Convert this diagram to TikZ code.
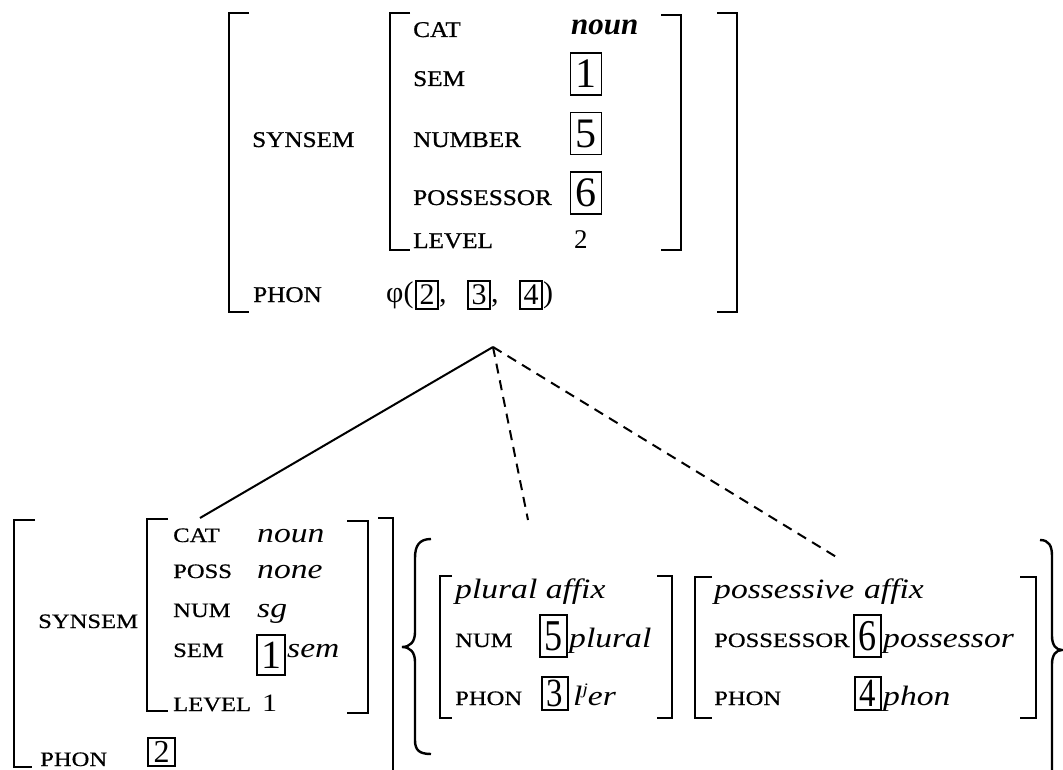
\documentclass[tikz,border=0pt]{standalone}
\usepackage{fontspec}
\setmainfont{Liberation Serif}
\newfontfamily\labfont[FakeStretch=1.12,FakeBold=0.8]{Liberation Serif}
\newfontfamily\blabfont[FakeStretch=1.2,FakeBold=0.6]{Liberation Serif}
\newfontfamily\bvalfont[FakeStretch=1.2]{Liberation Serif}
\newfontfamily\narrowdig[FakeStretch=0.82]{Liberation Serif}
\newcommand\fsz[1]{\fontsize{#1}{#1}\selectfont}
\begin{document}
\begin{tikzpicture}[x=1pt,y=-1pt,
  brk/.style={line width=2.8pt, line join=miter},
  brc/.style={line width=2.4pt},
  link/.style={line width=2pt},
  dlink/.style={line width=2pt, dash pattern=on 10pt off 7pt},
  lab/.style={anchor=base west, inner sep=0pt, font=\labfont\fsz{22.5}},
  tval/.style={anchor=base west, inner sep=0pt, font=\bfseries\itshape\fsz{31}},
  tnum/.style={anchor=base west, inner sep=0pt, font=\fsz{27}},
  pnum/.style={anchor=base west, inner sep=0pt, font=\fsz{30}},
  ttag/.style={draw, line width=1.6pt, inner sep=0pt, minimum width=31pt, minimum height=42pt, font=\fsz{42}},
  ptag/.style={draw, line width=1.5pt, inner sep=0pt, minimum width=22pt, minimum height=28pt, font=\fsz{30}},
  blab/.style={anchor=base west, inner sep=0pt, font=\blabfont\fsz{20.5}},
  bval/.style={anchor=base west, inner sep=0pt, font=\bvalfont\itshape\fsz{28}},
  bnum/.style={anchor=base west, inner sep=0pt, font=\bvalfont\fsz{25}},
  btag/.style={draw, line width=1.6pt, inner sep=0pt, minimum width=28pt, minimum height=40pt, font=\fsz{40}},
  ctag/.style={draw, line width=1.6pt, inner sep=0pt, minimum width=27pt, minimum height=42pt, font=\narrowdig\fsz{44}},
  dtag/.style={draw, line width=1.6pt, inner sep=0pt, minimum width=26pt, minimum height=33pt, font=\narrowdig\fsz{40}}]
\useasboundingbox (0,0) rectangle (1063,770);

% ---------- top structure ----------
\draw[brk] (249,13) -- (229,13) -- (229,312) -- (249,312);
\draw[brk] (717,13) -- (737,13) -- (737,312) -- (717,312);
\draw[brk] (410,13) -- (390,13) -- (390,250) -- (410,250);
\draw[brk] (661,15) -- (681,15) -- (681,250) -- (661,250);

\node[lab] (tsyn) at (252,147) {SYNSEM};
\node[lab] (tcat) at (413,37) {CAT};
\node[lab] (tsem) at (413,86) {SEM};
\node[lab] (tnumber) at (413,147) {NUMBER};
\node[lab] (tposs) at (413,205) {POSSESSOR};
\node[lab] (tlevel) at (413,248) {LEVEL};
\node[tval] (tnoun) at (571,35) {noun};
\node[ttag] (tt1) at (586,74) {1};
\node[ttag] (tt5) at (586,133.5) {5};
\node[ttag] (tt6) at (586,193) {6};
\node[tnum] (tlev) at (574,248) {2};
\node[lab] (tphon) at (253,302) {PHON};
\node[pnum] (tphi) at (386,302) {φ(};
\node[ptag] (tp2) at (427,295) {2};
\node[pnum] (tc1) at (439,302) {,};
\node[ptag] (tp3) at (479,295) {3};
\node[pnum] (tc2) at (491,302) {,};
\node[ptag] (tp4) at (531,295) {4};
\node[pnum] (trp) at (543,302) {)};

% ---------- connectors ----------
\coordinate (apex) at (493,347);
\coordinate (lend) at (200,518);
\coordinate (mend) at (528,520);
\coordinate (rend) at (838,558);
\draw[link] (apex) -- (lend);
\draw[dlink] (apex) -- (mend);
\draw[dlink] (apex) -- (rend);

% ---------- bottom-left structure ----------
\draw[brk] (35,520) -- (14,520) -- (14,767) -- (32,767);
\draw[brk] (378,518) -- (393,518) -- (393,775);
\draw[brk] (168,519) -- (147,519) -- (147,711) -- (168,711);
\draw[brk] (347,521) -- (368,521) -- (368,713) -- (347,713);

\node[blab] (bsyn) at (38,628) {SYNSEM};
\node[blab] (bcat) at (173,542) {CAT};
\node[blab] (bposs) at (173,578) {POSS};
\node[blab] (bnumk) at (173,617) {NUM};
\node[blab] (bsem) at (173,657) {SEM};
\node[blab] (blevel) at (173,711) {LEVEL};
\node[bval] (bnoun) at (257,542) {noun};
\node[bval] (bnone) at (257,578) {none};
\node[bval] (bsg) at (257,617) {sg};
\node[btag] (bt1) at (271,655) {1};
\node[bval] (bsemv) at (287,657) {sem};
\node[bnum] (blev) at (262,711) {1};
\node[blab] (bphon) at (40,766) {PHON};
\node[btag, minimum width=27pt, minimum height=28pt, font=\fsz{32}] (bt2) at (161.5,752) {2};

% ---------- braces ----------
\draw[brc] (431,539) .. controls (419,539) and (415,546) .. (415,558) -- (415,632)
  .. controls (415,642) and (410,647) .. (402,647)
  .. controls (410,647) and (415,652) .. (415,662) -- (415,740)
  .. controls (415,750) and (419,754) .. (431,754);
\draw[brc] (1040,540) .. controls (1049,540) and (1052,546) .. (1052,556) -- (1052,636)
  .. controls (1052,645) and (1056,650) .. (1062,650)
  .. controls (1056,650) and (1052,655) .. (1052,664) -- (1052,775);

% plural affix
\draw[brk] (452,576) -- (440,576) -- (440,718) -- (452,718);
\draw[brk] (657,576) -- (672,576) -- (672,718) -- (657,718);
\node[bval] (pltitle) at (455,598) {plural affix};
\node[blab] (plnum) at (455,647) {NUM};
\node[ctag] (pl5) at (553.5,636) {5};
\node[bval] (plval) at (569,647) {plural};
\node[blab] (plphon) at (455,705) {PHON};
\node[dtag] (pl3) at (555,693.5) {3};
\node[bval] (plform) at (573,705) {l\raisebox{11pt}{\fsz{16}j}er};

% possessive affix
\draw[brk] (712,577) -- (695,577) -- (695,718) -- (712,718);
\draw[brk] (1020,577) -- (1036,577) -- (1036,718) -- (1020,718);
\node[bval] (potitle) at (714,598) {possessive\hspace{10pt}affix};
\node[blab] (poposs) at (714,647) {POSSESSOR};
\node[ctag] (po6) at (867.5,636) {6};
\node[bval] (poval) at (883,647) {possessor};
\node[blab] (pophon) at (714,705) {PHON};
\node[dtag] (po4) at (868,693.5) {4};
\node[bval] (poform) at (883,705) {phon};
\end{tikzpicture}
\end{document}
